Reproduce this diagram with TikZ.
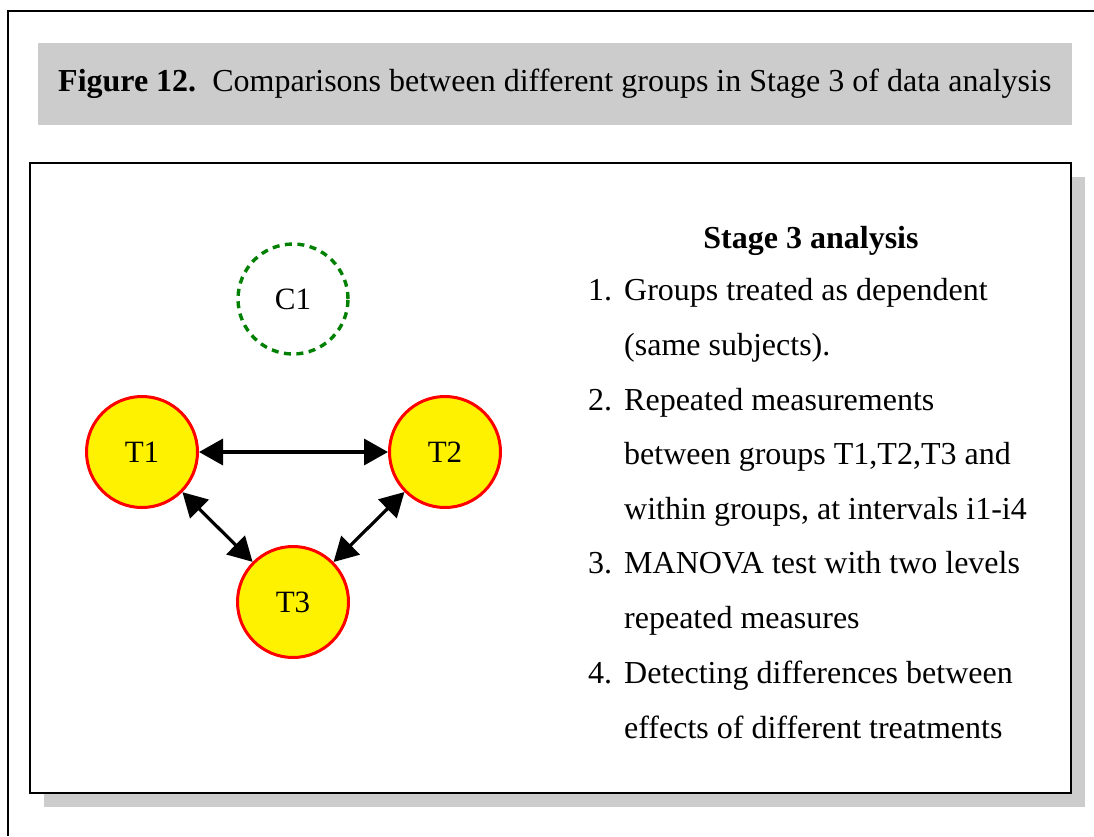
\documentclass[tikz,border=0pt]{standalone}
\usepackage{fontspec}
\setmainfont{Liberation Serif}
\usetikzlibrary{arrows.meta}
\definecolor{ctrlgreen}{RGB}{0,128,0}
\definecolor{panelgray}{RGB}{204,204,204}
\begin{document}
\begin{tikzpicture}[x=1pt,y=-1pt,
  txt/.style={font=\fontsize{32}{38}\selectfont, inner sep=0pt},
  grp/.style={circle, draw=red, fill=yellow, line width=3pt,
    minimum size=111pt, inner sep=0pt, font=\fontsize{31}{36}\selectfont},
  ctrl/.style={circle, draw=ctrlgreen, dash pattern=on 7pt off 5.5pt,
    line width=3.4pt, minimum size=110pt, inner sep=0pt,
    font=\fontsize{31}{36}\selectfont},
  link/.style={line width=3.5pt,
    {Triangle[length=24pt,width=26pt]}-{Triangle[length=24pt,width=26pt]}},
  item/.style={txt, anchor=base west}
]
\useasboundingbox (0,0) rectangle (1094,836);

% outer frame (top and left edges)
\draw[line width=2pt] (8,836) -- (8,11) -- (1094,11);

% caption band
\fill[panelgray] (38,43) rectangle (1072,125);
\node[item] (cap) at (58,91)
  {\textbf{Figure 12.}\hspace{16pt}Comparisons between different groups in Stage 3 of data analysis};

% panel with drop shadow
\fill[panelgray] (44,177) rectangle (1085,807);
\draw[fill=white, line width=1.5pt] (30,163) rectangle (1071,793);

% groups
\node[ctrl] (c1) at (293,299) {C1};
\node[grp] (t1) at (142,452) {T1};
\node[grp] (t2) at (445,452) {T2};
\node[grp] (t3) at (293,602) {T3};

\draw[link] (t1) -- (t2);
\draw[link, line width=3.2pt] (t1) -- (t3);
\draw[link, line width=3.2pt] (t2) -- (t3);

% description
\node[txt, anchor=base] (head) at (811,248) {\textbf{Stage 3 analysis}};
\node[item] (n1) at (588,300) {1.};
\node[item] (a1) at (624,300) {Groups treated as dependent};
\node[item] (a2) at (624,355) {(same subjects).};
\node[item] (n2) at (588,410) {2.};
\node[item] (b1) at (624,410) {Repeated measurements};
\node[item] (b2) at (624,464) {between groups T1,T2,T3 and};
\node[item] (b3) at (624,519) {within groups, at intervals i1-i4};
\node[item] (n3) at (588,573) {3.};
\node[item] (d1) at (624,573) {MANOVA test with two levels};
\node[item] (d2) at (624,628) {repeated measures};
\node[item] (n4) at (588,683) {4.};
\node[item] (e1) at (624,683) {Detecting differences between};
\node[item] (e2) at (624,738) {effects of different treatments};
\end{tikzpicture}
\end{document}
